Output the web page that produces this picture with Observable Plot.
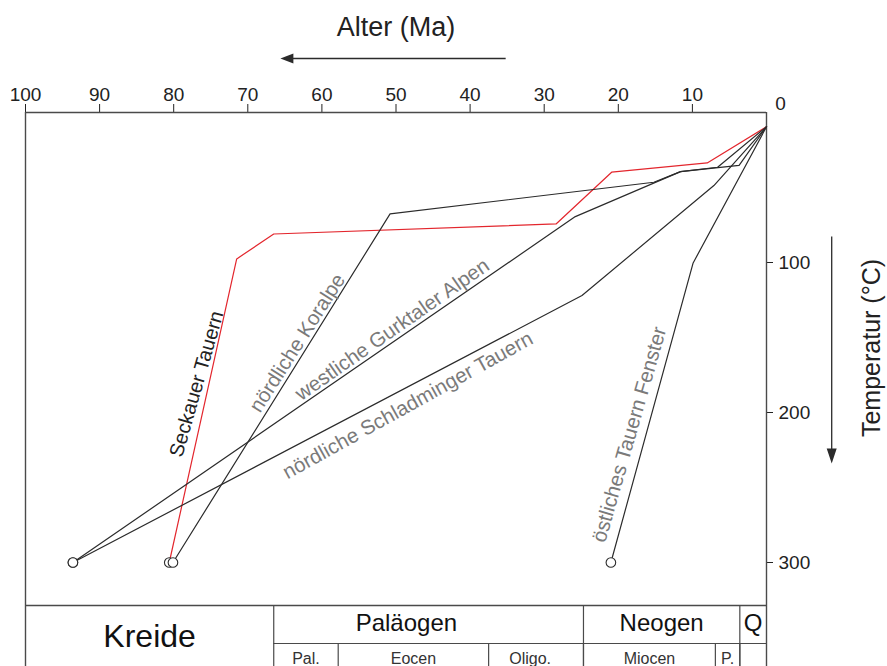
<!DOCTYPE html>
<html><head><meta charset="utf-8">
<script src="https://cdn.jsdelivr.net/npm/d3@7"></script>
<script src="https://cdn.jsdelivr.net/npm/@observablehq/plot@0.6"></script>
<style>body{margin:0;background:#fff} #chart svg{display:block}</style>
</head><body><div id="chart"></div>
<script>
// ---- data (age in Ma, temperature in °C) ----
const xTicks = [100, 90, 80, 70, 60, 50, 40, 30, 20, 10];
const yTicks = [100, 200, 300];

const seckauerTauern = [[80.6, 300], [71.5, 97.6], [66.5, 81], [28.4, 74.3], [20.9, 39.8], [8.0, 33.6], [0, 9.5]];
const noerdlicheKoralpe = [[80.1, 300], [50.8, 67.6], [15.2, 46.5], [11.6, 39.4], [3.7, 35.2], [0, 9.5]];
const westlicheGurktalerAlpen = [[93.6, 300], [25.8, 69.4], [11.6, 39.4], [6.6, 36.5], [0, 9.5]];
const noerdlicheSchladmingerTauern = [[93.6, 300], [24.9, 122], [7.1, 48.7], [0, 9.5]];
const oestlichesTauernFenster = [[21.0, 300], [9.9, 100.3], [0, 9.5]];

const series = [
  {name: "Seckauer Tauern", points: seckauerTauern},
  {name: "nördliche Koralpe", points: noerdlicheKoralpe},
  {name: "westliche Gurktaler Alpen", points: westlicheGurktalerAlpen},
  {name: "nördliche Schladminger Tauern", points: noerdlicheSchladmingerTauern},
  {name: "östliches Tauern Fenster", points: oestlichesTauernFenster}
];

// label anchor (age, temperature) for each path name
const lineLabels = [
  {name: "Seckauer Tauern", age: 76.9, temp: 181},
  {name: "nördliche Koralpe", age: 63.3, temp: 153.7},
  {name: "westliche Gurktaler Alpen", age: 50.5, temp: 144.7},
  {name: "nördliche Schladminger Tauern", age: 48.4, temp: 195.3},
  {name: "östliches Tauern Fenster", age: 18.5, temp: 214.7}
];

// geological time scale (Ma)
const periods = [
  {name: "Kreide", start: 100, end: 66.5},
  {name: "Paläogen", start: 66.5, end: 24.7, labelAt: 48.6},
  {name: "Neogen", start: 24.7, end: 3.6},
  {name: "Q", start: 3.6, end: 0}
];
const epochs = [
  {name: "Pal.", start: 66.5, end: 57.8},
  {name: "Eocen", start: 57.8, end: 37.5},
  {name: "Oligo.", start: 37.5, end: 24.7, labelAt: 31.9},
  {name: "Miocen", start: 24.7, end: 6.9},
  {name: "P.", start: 6.9, end: 3.6}
];

// ---- layout / style ----
const RED = "#e3262d", INK = "#2b2b2b", GREY = "#7a7a7a", FRAME = "#4a4a4a";
const FONT = "'Liberation Sans', Arial, Helvetica, sans-serif";
const table = {top: 328.7, mid: 354, bottom: 369.33};
const labelAngle = {
  "Seckauer Tauern": -74, "nördliche Koralpe": -57.5, "westliche Gurktaler Alpen": -35,
  "nördliche Schladminger Tauern": -29, "östliches Tauern Fenster": -74
};

const headLeft = {draw(ctx, size) { const r = Math.sqrt(size / Math.PI); ctx.moveTo(0, 0); ctx.lineTo(r * 2.6, -r); ctx.lineTo(r * 2.6, r); ctx.closePath(); }};
const headDown = {draw(ctx, size) { const r = Math.sqrt(size / Math.PI); ctx.moveTo(0, 0); ctx.lineTo(-r, -r * 3); ctx.lineTo(r, -r * 3); ctx.closePath(); }};

const starts = series.map(s => ({name: s.name, age: s.points[0][0], temp: s.points[0][1]}));

const chart = Plot.plot({
  width: 887, height: 666,
  marginLeft: 25, marginRight: 121, marginTop: 112, marginBottom: 0,
  style: {fontFamily: FONT, fontSize: "19px", color: "#222", background: "white", overflow: "visible"},
  x: {domain: [100, 0], axis: "top", ticks: xTicks, tickSize: 9, tickPadding: 3, label: null},
  y: {domain: [0, table.bottom], reverse: true, axis: "right", ticks: yTicks, tickSize: 6, tickPadding: 6, label: null},
  marks: [
    // frame
    Plot.ruleY([0], {x1: 100, x2: 0, stroke: FRAME, strokeWidth: 1.4}),
    Plot.ruleX([100, 0], {y1: 0, y2: table.bottom, stroke: FRAME, strokeWidth: 1.4}),
    // time scale table
    Plot.ruleY([table.top], {x1: 100, x2: 0, stroke: FRAME, strokeWidth: 1.4}),
    Plot.ruleY([table.mid], {x1: periods[1].start, x2: 0, stroke: FRAME, strokeWidth: 1.2}),
    Plot.ruleX(periods.slice(1), {x: "start", y1: table.top, y2: table.bottom, stroke: FRAME, strokeWidth: 1.2}),
    Plot.ruleX(epochs.slice(1).concat([{start: periods[3].start}]), {x: "start", y1: table.mid, y2: table.bottom, stroke: FRAME, strokeWidth: 1.2}),
    Plot.text(periods.slice(0, 1), {x: d => (d.start + d.end) / 2, y: 349.3, text: "name", fontSize: 32, fill: "#111"}),
    Plot.text(periods.slice(1), {x: d => d.labelAt ?? (d.start + d.end) / 2, y: 340.8, text: "name", fontSize: 24, fill: "#111"}),
    Plot.text(epochs, {x: d => d.labelAt ?? (d.start + d.end) / 2, y: 364.2, text: "name", fontSize: 16, fill: "#333"}),
    // cooling paths
    ...series.map(s => Plot.line(s.points, {x: d => d[0], y: d => d[1], stroke: s.name === "Seckauer Tauern" ? RED : INK, strokeWidth: 1.2})),
    Plot.dot(starts, {x: "age", y: "temp", r: 4.8, stroke: INK, fill: "white", strokeWidth: 1.1}),
    // path labels
    Plot.text(lineLabels.filter(d => d.name === "Seckauer Tauern"), {x: "age", y: "temp", text: "name", rotate: d => labelAngle[d.name], fontSize: 20, fill: "#222"}),
    Plot.text(lineLabels.filter(d => d.name !== "Seckauer Tauern"), {x: "age", y: "temp", text: "name", rotate: d => labelAngle[d.name], fontSize: 20.5, fill: GREY}),
    // zero label shared by both axes
    Plot.text([0], {x: 0, y: 0, text: ["0"], dx: 14, dy: -9, fontSize: 19, fill: "#222"}),
    // axis titles with arrows
    Plot.text(["Alter (Ma)"], {frameAnchor: "top", lineAnchor: "middle", dy: -85, fontSize: 27, fill: "#222"}),
    Plot.link([{x1: 35.2, x2: 64.5, y: -36}], {x1: "x1", x2: "x2", y1: "y", y2: "y", stroke: INK, strokeWidth: 1.3}),
    Plot.dot([{x: 65.6, y: -36}], {x: "x", y: "y", symbol: headLeft, r: 5, fill: INK, stroke: "none"}),
    Plot.link([{x: -8.8, y1: 82.7, y2: 226}], {x1: "x", x2: "x", y1: "y1", y2: "y2", stroke: INK, strokeWidth: 1.3}),
    Plot.dot([{x: -8.8, y: 234}], {x: "x", y: "y", symbol: headDown, r: 5, fill: INK, stroke: "none"}),
    Plot.text(["Temperatur (°C)"], {x: -14.3, y: 157, rotate: -90, fontSize: 25, fill: "#222"})
  ]
});
document.getElementById("chart").append(chart);
</script>
</body></html>
